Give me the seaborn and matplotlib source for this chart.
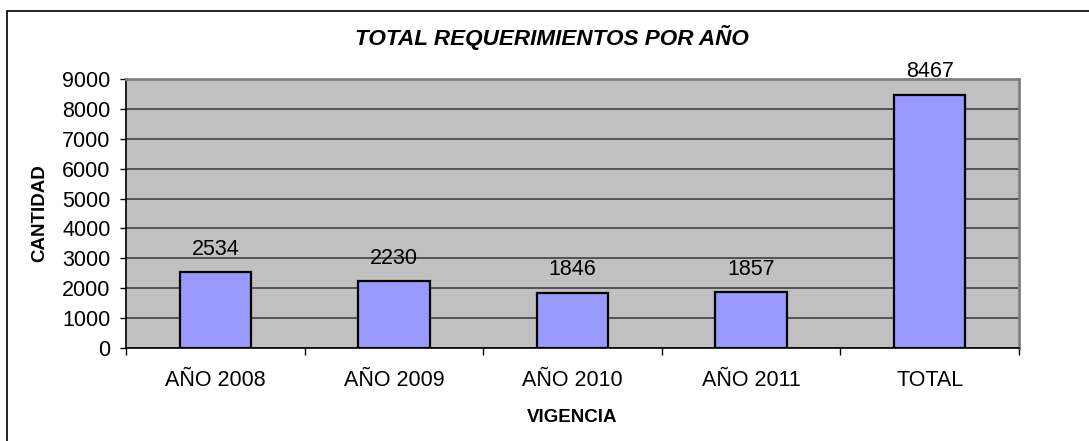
import matplotlib
matplotlib.use("Agg")
import matplotlib.pyplot as plt
import seaborn as sns
from matplotlib.patches import Rectangle

# datos del grafico
categorias = ["AÑO 2008", "AÑO 2009", "AÑO 2010", "AÑO 2011", "TOTAL"]
cantidades = [2534, 2230, 1846, 1857, 8467]
y_ticks = [0, 1000, 2000, 3000, 4000, 5000, 6000, 7000, 8000, 9000]

sns.set_style("white")
plt.rcParams["font.family"] = ["Liberation Sans", "DejaVu Sans"]
plt.rcParams["text.color"] = "black"
plt.rcParams["axes.labelcolor"] = "black"
plt.rcParams["xtick.color"] = "black"
plt.rcParams["ytick.color"] = "black"

fig = plt.figure(figsize=(10.89, 4.41), dpi=100)
ax = fig.add_axes([126 / 1089, 1 - 348 / 441, 893 / 1089, 269 / 441])
ax.set_facecolor("#C0C0C0")

sns.barplot(x=categorias, y=cantidades, color="#9999FF", saturation=1,
            edgecolor="black", linewidth=1.6, width=0.4, ax=ax, zorder=3)

ax.set_ylim(0, 9000)
ax.set_xlim(-0.5, 4.5)
ax.set_yticks(y_ticks)
ax.yaxis.grid(True, color="#404040", linewidth=1.2, zorder=0)
ax.set_axisbelow(True)

for c in ax.containers:
    ax.bar_label(c, labels=[str(v) for v in cantidades], padding=9,
                 fontsize=15.5, color="black")

# bordes del area de trazado
ax.spines["left"].set_color("black")
ax.spines["bottom"].set_color("black")
ax.spines["left"].set_linewidth(1.2)
ax.spines["bottom"].set_linewidth(1.2)
ax.spines["top"].set_color("#808080")
ax.spines["right"].set_color("#808080")
ax.spines["top"].set_linewidth(2)
ax.spines["right"].set_linewidth(2)

ax.tick_params(axis="y", length=4, width=1, direction="out", pad=7,
               labelsize=15.5, left=True, color="black", labelcolor="black")
ax.tick_params(axis="x", length=0, pad=16, labelsize=15.5, labelcolor="black")
ax.set_xticks([-0.5, 0.5, 1.5, 2.5, 3.5, 4.5], minor=True)
ax.tick_params(axis="x", which="minor", length=5, width=1, direction="out",
               bottom=True, color="black")

ax.set_xlabel("VIGENCIA", fontsize=13.5, fontweight="bold", color="black")
ax.set_ylabel("CANTIDAD", fontsize=13.5, fontweight="bold", color="black")
ax.xaxis.set_label_coords(0.5, -0.225)
ax.yaxis.set_label_coords(-0.087, 0.5)

fig.text(0.5065, 1 - 38 / 441, "TOTAL REQUERIMIENTOS POR AÑO", fontsize=16.2,
         fontweight="bold", fontstyle="italic", ha="center", va="center",
         color="black")

# marco exterior del grafico
fig.patches.append(Rectangle((7 / 1089, -0.1), 1.2, 1.1 - 11 / 441,
                             transform=fig.transFigure, fill=False,
                             edgecolor="black", linewidth=1.2))

fig.savefig("out.png", dpi=100)
